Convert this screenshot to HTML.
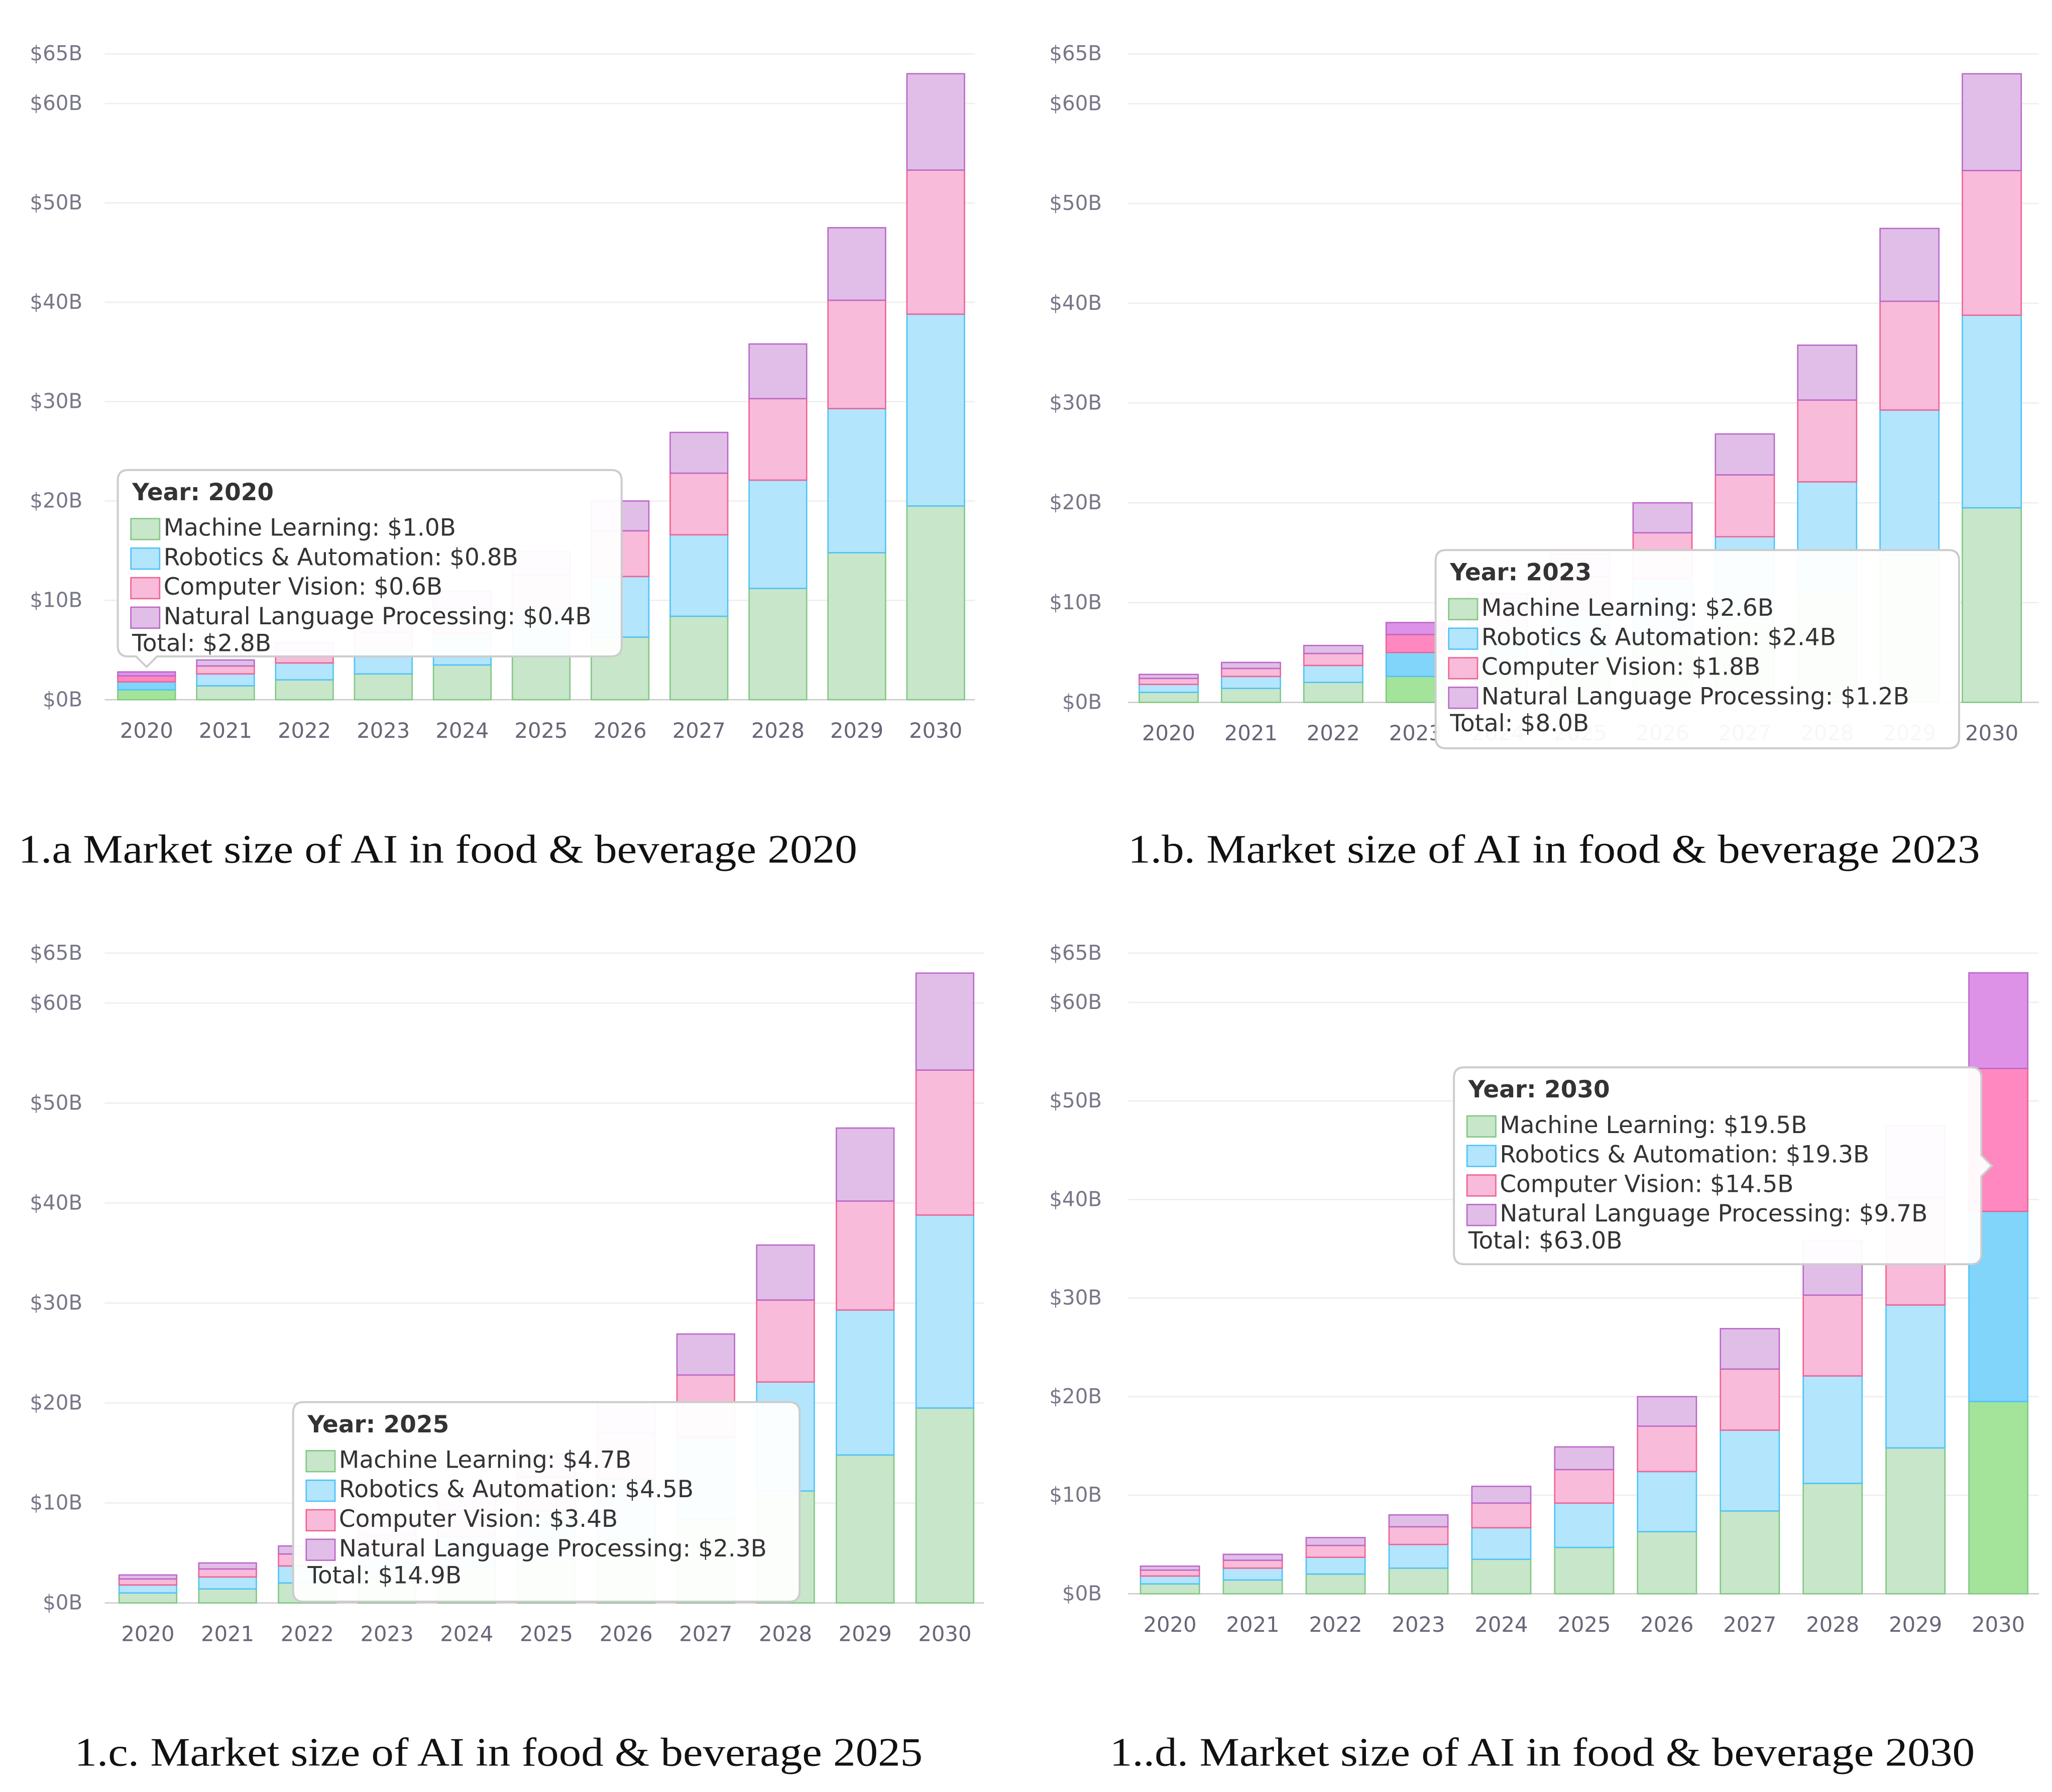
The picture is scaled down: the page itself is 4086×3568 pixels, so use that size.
<!DOCTYPE html>
<html><head><meta charset="utf-8">
<style>
html,body{margin:0;padding:0;background:#fff;}
svg{display:block;}
.tick{font-family:"DejaVu Sans",sans-serif;font-size:15.5px;fill:#778;}
.xl{font-family:"DejaVu Sans",sans-serif;font-size:16px;fill:#667;}
.cap{font-family:"Liberation Serif",serif;font-size:31px;fill:#111;}
.tt{font-family:"DejaVu Sans",sans-serif;font-size:18px;fill:#333;}
</style></head>
<body>
<svg id="c" width="4086" height="3568" viewBox="0 0 1568 1365" preserveAspectRatio="none" xmlns="http://www.w3.org/2000/svg"></svg>
<script>
const years=["2020","2021","2022","2023","2024","2025","2026","2027","2028","2029","2030"];
const ml=[1.0,1.4,2.0,2.6,3.5,4.7,6.3,8.4,11.2,14.8,19.5];
const ra=[0.8,1.2,1.7,2.4,3.2,4.5,6.1,8.2,10.9,14.5,19.3];
const cv=[0.6,0.8,1.2,1.8,2.5,3.4,4.6,6.2,8.2,10.9,14.5];
const nlp=[0.4,0.6,0.8,1.2,1.7,2.3,3.0,4.1,5.5,7.3,9.7];
const ticks=[0,10,20,30,40,50,60,65];
const tickLabels=["$0B","$10B","$20B","$30B","$40B","$50B","$60B","$65B"];
const seriesNames=["Machine Learning","Robotics & Automation","Computer Vision","Natural Language Processing"];
const series=[ml,ra,cv,nlp];
const fills=["#c8e6c9","#b3e5fc","#f8bbd9","#e1bee7"];
const hfills=["#a3e49a","#81d4fa","#ff88c0","#dd92e8"];
const strokes=["#81c784","#4fc3f7","#f06292","#ba68c8"];
const NS="http://www.w3.org/2000/svg";
const svg=document.getElementById('c');
function el(t,a,p){const e=document.createElementNS(NS,t);for(const k in a)e.setAttribute(k,a[k]);(p||svg).appendChild(e);return e;}
const panels=[
 {id:"a",y0:533,y65:41,x0:112,x1:715,bw:44,lx:63,gx0:80,gx1:745,xly:562,hi:0,cap:"1.a Market size of AI in food & beverage 2020",cx:14,cy:657,cw:641,
  tt:{x:90,y:358,w:385,h:142,i:0,px:112,dir:"down"}},
 {id:"b",y0:535,y65:41,x0:893,x1:1522,bw:45,lx:842,gx0:862,gx1:1558,xly:564,hi:3,cap:"1.b. Market size of AI in food & beverage 2023",cx:862,cy:657,cw:651,
  tt:{x:1097,y:419,w:400,h:151,i:3,dir:"none"}},
 {id:"c",y0:1221,y65:726,x0:113,x1:722,bw:44,lx:63,gx0:80,gx1:752,xly:1250,hi:-1,cap:"1.c. Market size of AI in food & beverage 2025",cx:57,cy:1345,cw:648,
  tt:{x:224,y:1068,w:387,h:152,i:5,dir:"none"}},
 {id:"d",y0:1214,y65:726,x0:894,x1:1527,bw:45,lx:842,gx0:862,gx1:1558,xly:1243,hi:10,cap:"1..d. Market size of AI in food & beverage 2030",cx:848,cy:1345,cw:661,
  tt:{x:1111,y:813,w:403,h:150,i:10,dir:"right"}}
];
panels.forEach(P=>{
 const g=el('g',{});
 
 
 const yS=v=>P.y0-(P.y0-P.y65)*v/65;
 const xS=i=>P.x0+(P.x1-P.x0)*i/(years.length-1);
 ticks.forEach((t,k)=>{
  const gl=el('line',{x1:P.gx0,x2:P.gx1,y1:yS(t),y2:yS(t),stroke:t===0?'#ccc':'#eee','stroke-width':1},g);
  
  
  const tl=el('text',{x:P.lx,y:yS(t)+5,'text-anchor':'end',class:'tick'},g);
  tl.textContent=tickLabels[k];
  
  
 });
 years.forEach((yr,i)=>{
  let cum=0;
  series.forEach((s,j)=>{
   const v=s[i];const top=yS(cum+v),bot=yS(cum);cum+=v;
   const r=el('rect',{x:xS(i)-P.bw/2,y:top,width:P.bw,height:bot-top,fill:i===P.hi?hfills[j]:fills[j],stroke:strokes[j],'stroke-width':1},g);
   
   
  });
  const xl=el('text',{x:xS(i),y:P.xly,'text-anchor':'middle',class:'xl'},g);
  xl.textContent=yr;
  
  
 });
 const T=P.tt;
 const tg=el('g',{},g);
 
 
 let d=`M${T.x+8},${T.y} H${T.x+T.w-8} Q${T.x+T.w},${T.y} ${T.x+T.w},${T.y+8}`;
 if(T.dir==="right"){const my=T.y+T.h/2;d+=` V${my-8} L${T.x+T.w+8},${my} L${T.x+T.w},${my+8}`;}
 d+=` V${T.y+T.h-8} Q${T.x+T.w},${T.y+T.h} ${T.x+T.w-8},${T.y+T.h}`;
 if(T.dir==="down"){d+=` H${T.px+8} L${T.px},${T.y+T.h+8} L${T.px-8},${T.y+T.h}`;}
 d+=` H${T.x+8} Q${T.x},${T.y+T.h} ${T.x},${T.y+T.h-8} V${T.y+8} Q${T.x},${T.y} ${T.x+8},${T.y} Z`;
 el('path',{d:d,fill:'rgba(255,255,255,0.95)',stroke:'#ccc','stroke-width':1.5},tg);
 const i=T.i;
 const t0=el('text',{x:T.x+11,y:T.y+23,class:'tt','font-weight':'bold'},tg);
 t0.textContent='Year: '+years[i];
 let tot=0;
 series.forEach((s,j)=>{
  tot+=s[i];
  const yy=T.y+50+j*22.5;
  el('rect',{x:T.x+10,y:yy-13,width:22,height:16,fill:fills[j],stroke:strokes[j]},tg);
  const t=el('text',{x:T.x+35,y:yy,class:'tt'},tg);
  t.textContent=seriesNames[j]+': $'+s[i].toFixed(1)+'B';
 });
 const tt=el('text',{x:T.x+11,y:T.y+50+4*22.5-2,class:'tt'},tg);
 tt.textContent='Total: $'+tot.toFixed(1)+'B';
 const cap=el('text',{x:P.cx,y:P.cy,class:'cap',textLength:P.cw,lengthAdjust:'spacingAndGlyphs'},g);
 cap.textContent=P.cap;
 
 
});
</script>
</body></html>
